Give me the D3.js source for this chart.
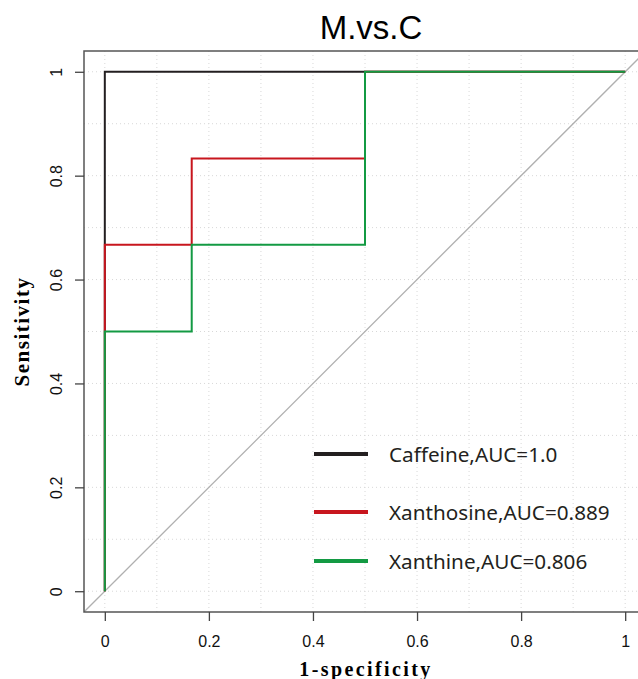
<!DOCTYPE html>
<meta charset="utf-8">
<style>
body { margin: 0; background: #fff; }
.grid line { stroke: #d8d8d8; stroke-dasharray: 1,3; }
.axis path { display: none; }
.axis line { stroke: #444; stroke-width: 1.3; }
</style>
<svg></svg>
<script src="https://cdn.jsdelivr.net/npm/d3@7"></script>
<script>
// ROC curves, M vs C
var seriesNames = ["Caffeine,AUC=1.0", "Xanthosine,AUC=0.889", "Xanthine,AUC=0.806"];
var seriesColors = ["#231f20", "#c8161e", "#139a43"];
var caffeineFpr = [0, 0, 1];
var caffeineTpr = [0, 1, 1];
var xanthosineFpr = [0, 0, 0.167, 0.167, 0.5, 0.5, 1];
var xanthosineTpr = [0, 0.667, 0.667, 0.833, 0.833, 1, 1];
var xanthineFpr = [0, 0, 0.167, 0.167, 0.5, 0.5, 1];
var xanthineTpr = [0, 0.5, 0.5, 0.667, 0.667, 1, 1];
var tickValues = [0, 0.2, 0.4, 0.6, 0.8, 1];
var tickLabels = ["0", "0.2", "0.4", "0.6", "0.8", "1"];
var gridValues = [0, 0.1, 0.2, 0.3, 0.4, 0.5, 0.6, 0.7, 0.8, 0.9, 1];

var fprs = [caffeineFpr, xanthosineFpr, xanthineFpr],
    tprs = [caffeineTpr, xanthosineTpr, xanthineTpr];

var W = 638, H = 679;
var svg = d3.select("svg").attr("width", W).attr("height", H);

// R style: 4% padding around [0,1]
var x = d3.scaleLinear().domain([-0.04, 1.04]).range([84, 646]),
    y = d3.scaleLinear().domain([-0.04, 1.04]).range([612, 51]);

svg.append("defs").append("clipPath").attr("id", "clip")
  .append("rect")
    .attr("x", x(-0.04)).attr("y", y(1.04))
    .attr("width", x(1.04) - x(-0.04)).attr("height", y(-0.04) - y(1.04));

var plot = svg.append("g").attr("clip-path", "url(#clip)");

// dotted grid
var grid = plot.append("g").attr("class", "grid");
grid.selectAll(".gx").data(gridValues).enter().append("line")
    .attr("x1", function(d) { return x(d); }).attr("x2", function(d) { return x(d); })
    .attr("y1", y(-0.04)).attr("y2", y(1.04));
grid.selectAll(".gy").data(gridValues).enter().append("line")
    .attr("y1", function(d) { return y(d); }).attr("y2", function(d) { return y(d); })
    .attr("x1", x(-0.04)).attr("x2", x(1.04));

// reference diagonal
plot.append("line")
    .attr("x1", x(-0.04)).attr("y1", y(-0.04))
    .attr("x2", x(1.04)).attr("y2", y(1.04))
    .attr("stroke", "#b0b0b0").attr("stroke-width", 1.3);

var line = d3.line()
    .x(function(d) { return x(d[0]); })
    .y(function(d) { return y(d[1]); });

fprs.forEach(function(f, i) {
  plot.append("path")
      .datum(d3.zip(f, tprs[i]))
      .attr("fill", "none")
      .attr("stroke", seriesColors[i])
      .attr("stroke-width", 2)
      .attr("d", line);
});

// box
svg.append("rect")
    .attr("x", x(-0.04)).attr("y", y(1.04))
    .attr("width", x(1.04) - x(-0.04)).attr("height", y(-0.04) - y(1.04))
    .attr("fill", "none").attr("stroke", "#555").attr("stroke-width", 1.5);

// axes
var ax = svg.append("g")
    .attr("class", "axis")
    .attr("transform", "translate(0," + y(-0.04) + ")")
    .call(d3.axisBottom(x).tickValues(tickValues).tickSize(9)
      .tickFormat(function(d, i) { return tickLabels[i]; }));
ax.selectAll("text")
    .attr("y", 35).attr("dy", 0);

var ay = svg.append("g")
    .attr("class", "axis")
    .attr("transform", "translate(" + x(-0.04) + ",0)")
    .call(d3.axisLeft(y).tickValues(tickValues).tickSize(9)
      .tickFormat(function(d, i) { return tickLabels[i]; }));
ay.selectAll("text")
    .attr("x", 0).attr("dy", 0)
    .attr("text-anchor", "middle")
    .attr("transform", "translate(-22,0) rotate(-90)");

svg.selectAll(".axis text")
    .style("font-family", "Liberation Sans, Arial, sans-serif")
    .style("font-size", "16px")
    .style("fill", "#111");

// titles
svg.append("text")
    .attr("x", 371).attr("y", 39)
    .attr("text-anchor", "middle")
    .style("font-family", "Liberation Sans, Arial, sans-serif")
    .style("font-size", "33px")
    .text("M.vs.C");

svg.append("text")
    .attr("x", 366).attr("y", 676)
    .attr("text-anchor", "middle")
    .style("font-family", "Liberation Serif, Times New Roman, serif")
    .style("font-weight", "bold")
    .style("font-size", "20px")
    .style("letter-spacing", "2.4px")
    .text("1-specificity");

svg.append("text")
    .attr("transform", "translate(29," + y(0.5) + ") rotate(-90)")
    .attr("text-anchor", "middle")
    .style("font-family", "Liberation Serif, Times New Roman, serif")
    .style("font-weight", "bold")
    .style("font-size", "21px")
    .style("letter-spacing", "1.5px")
    .text("Sensitivity");

// legend
var legendY = [454, 512, 561];
var lg = svg.append("g");
seriesNames.forEach(function(name, i) {
  lg.append("line")
      .attr("x1", 314).attr("x2", 368)
      .attr("y1", legendY[i]).attr("y2", legendY[i])
      .attr("stroke", seriesColors[i]).attr("stroke-width", 4);
  lg.append("text")
      .attr("x", 389).attr("y", legendY[i] + 7.5)
      .style("font-family", "Noto Sans, sans-serif")
      .style("font-size", "20.7px")
      .style("fill", "#231f20")
      .text(name);
});
</script>
